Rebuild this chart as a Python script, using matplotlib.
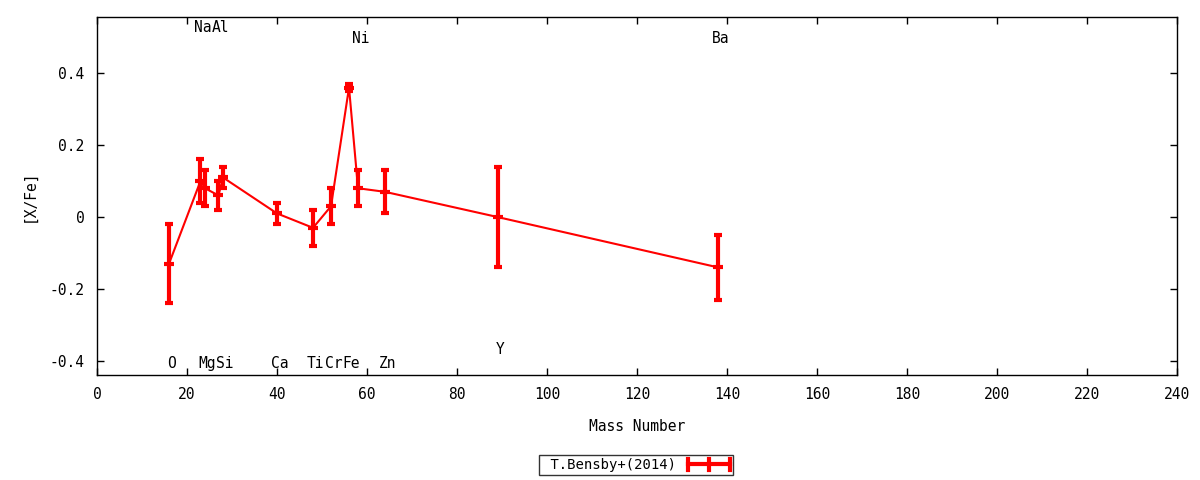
import matplotlib
matplotlib.use("Agg")
import matplotlib.pyplot as plt
from matplotlib.lines import Line2D
from matplotlib.legend_handler import HandlerBase

elements = ["O", "Na", "Mg", "Al", "Si", "Ca", "Ti", "Cr", "Fe", "Ni", "Zn", "Y", "Ba"]
mass = [16, 23, 24, 27, 28, 40, 48, 52, 56, 58, 64, 89, 138]
xfe = [-0.13, 0.10, 0.08, 0.06, 0.11, 0.01, -0.03, 0.03, 0.36, 0.08, 0.07, 0.00, -0.14]
err = [0.11, 0.06, 0.05, 0.04, 0.03, 0.03, 0.05, 0.05, 0.01, 0.05, 0.06, 0.14, 0.09]
label_y = [-0.406, 0.528, -0.406, 0.528, -0.406, -0.406, -0.406, -0.406, -0.406, 0.497, -0.406, -0.367, 0.497]

xticks = [0, 20, 40, 60, 80, 100, 120, 140, 160, 180, 200, 220, 240]
yticks = [-0.4, -0.2, 0, 0.2, 0.4]
yticklabels = ["-0.4", "-0.2", "0", "0.2", "0.4"]

RED = '#ff0000'
plt.rcParams['font.family'] = ['DejaVu Sans Mono']
plt.rcParams['font.size'] = 10


class ErrSampleHandler(HandlerBase):
    def create_artists(self, legend, orig_handle, xdescent, ydescent, width,
                       height, fontsize, trans):
        y = height / 2 - ydescent
        x0, x1 = -xdescent, width - xdescent
        xm = (x0 + x1) / 2
        h = 4.0
        arts = [Line2D([x0, x1], [y, y], color=RED, lw=3, transform=trans)]
        for xx in (x0, xm, x1):
            arts.append(Line2D([xx, xx], [y - h, y + h], color=RED, lw=3,
                               transform=trans))
        return arts


fig = plt.figure(figsize=(12, 4.8), dpi=100)
ax = fig.add_axes([0.0808, 0.2188, 0.9002, 0.7458])

eb = ax.errorbar(mass, xfe, yerr=err, color=RED, lw=1.5, elinewidth=3,
                 capsize=3, capthick=3, marker='_', markersize=7.5, mew=3,
                 label='T.Bensby+(2014)')

for el, m, ly in zip(elements, mass, label_y):
    ax.text(m + 0.5, ly, el, ha='center', va='center', fontsize=10.5)

ax.set_xlim(0, 240)
ax.set_ylim(-0.439, 0.556)
ax.set_xticks(xticks)
ax.set_yticks(yticks)
ax.set_yticklabels(yticklabels)
ax.tick_params(direction='in', top=True, right=True, length=5, width=1,
               pad=9, labelsize=10.5)
for s in ax.spines.values():
    s.set_linewidth(1)
ax.set_xlabel('Mass Number', labelpad=12, fontsize=10.5)
ax.set_ylabel('[X/Fe]', labelpad=9, fontsize=10.5)

leg = fig.legend(handles=[eb], labels=[' T.Bensby+(2014)'], loc='center',
                 bbox_to_anchor=(636 / 1200, 1 - 465 / 480), markerfirst=False,
                 frameon=True, fancybox=False, edgecolor='black',
                 handlelength=3.0, borderpad=0.22, handletextpad=0.9,
                 handler_map={type(eb): ErrSampleHandler()}, fontsize=10)
leg.get_frame().set_linewidth(1)

fig.savefig('out.png', dpi=100)
